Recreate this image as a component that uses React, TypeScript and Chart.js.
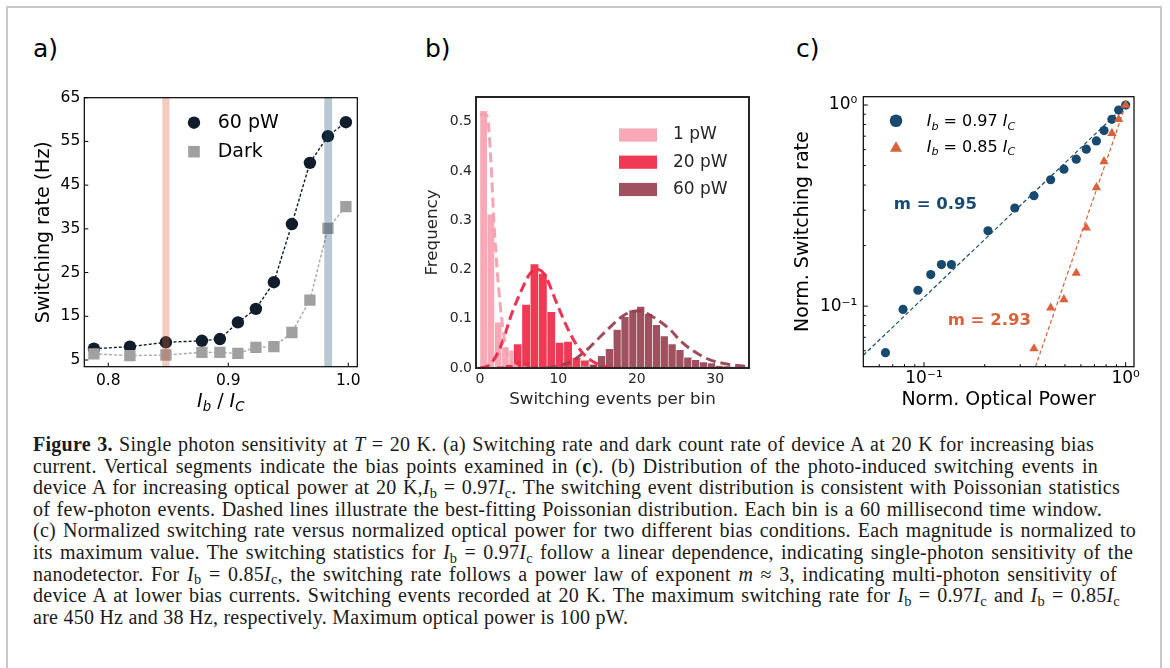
import React, { useEffect, useRef } from 'react';
import { Chart, registerables } from 'chart.js';

Chart.register(...registerables);

const FAMILY = 'DejaVu Sans';

/* ---------------- panel a: switching rate vs bias ---------------- */
const biasA = [0.788, 0.818, 0.848, 0.878, 0.893, 0.908, 0.923, 0.938, 0.953, 0.968, 0.983, 0.998];
const rate60pW = [7.6, 8.05, 9.05, 9.4, 9.8, 13.6, 16.7, 22.8, 36.1, 50.1, 56.2, 59.4];
const rateDark = [6.4, 6.0, 6.15, 6.75, 6.75, 6.5, 7.9, 8.05, 11.3, 18.7, 35.1, 40.1];
const bandLoA = [0.845, 0.98];
const bandHiA = [0.851, 0.9865];
const xTicksA = [0.8, 0.9, 1.0];
const yTicksA = [5, 15, 25, 35, 45, 55, 65];
const legendA = ['60 pW', 'Dark'];

/* ---------------- panel b: histograms ---------------- */
const binWidthsB = [0.93, 1.07, 1.0];
const binCenters1pW = [0.465, 1.395, 2.325, 3.255, 4.185, 5.115, 6.045, 6.975, 7.905];
const freq1pW = [0.522, 0.312, 0.093, 0.042, 0.036, 0.016, 0.012, 0.005, 0.003];
const binCenters20pW = [0.535, 1.605, 2.675, 3.745, 4.815, 5.885, 6.955, 8.025, 9.095, 10.165, 11.235, 12.305, 13.375, 14.445, 15.515, 16.585];
const freq20pW = [0.002, 0.002, 0.004, 0.0075, 0.049, 0.129, 0.211, 0.192, 0.114, 0.052, 0.054, 0.021, 0.016, 0.008, 0.004, 0.002];
const binCenters60pW = [12.5, 13.5, 14.5, 15.5, 16.5, 17.5, 18.5, 19.5, 20.5, 21.5, 22.5, 23.5, 24.5, 25.5, 26.5, 27.5, 28.5, 29.5, 30.5, 31.5, 32.5, 33.5, 34.5];
const freq60pW = [0.002, 0.004, 0.007, 0.025, 0.039, 0.078, 0.104, 0.118, 0.125, 0.11, 0.088, 0.065, 0.049, 0.037, 0.022, 0.017, 0.012, 0.01, 0.005, 0.004, 0.003, 0.003, 0.003];
const fitX1pW = [0, 0.6, 1.0, 1.4, 1.83, 2.55, 3.32, 3.75, 4.6, 6];
const fitY1pW = [0.514, 0.516, 0.505, 0.42, 0.283, 0.134, 0.039, 0.019, 0.003, 0];
const fitX20pW = [0, 1.0, 1.9, 2.8, 4.05, 5.3, 6.4, 7.2, 7.9, 8.5, 9.8, 11.1, 12.35, 13.6, 14.9, 16.2, 18];
const fitY20pW = [0, 0.004, 0.02, 0.05, 0.11, 0.158, 0.192, 0.2, 0.196, 0.182, 0.131, 0.083, 0.046, 0.022, 0.009, 0.002, 0];
const fitX60pW = [8.5, 10, 11.5, 12.8, 14.05, 15.3, 16.6, 17.9, 19.2, 20.4, 21.7, 23, 24.3, 25.5, 26.8, 28.1, 29.4, 31.1, 32.8, 34.3];
const fitY60pW = [0, 0.004, 0.012, 0.026, 0.043, 0.063, 0.083, 0.102, 0.114, 0.116, 0.107, 0.094, 0.077, 0.056, 0.039, 0.026, 0.016, 0.009, 0.005, 0.003];
const xTicksB = [0, 10, 20, 30];
const yTicksB = [0, 0.1, 0.2, 0.3, 0.4, 0.5];
const legendB = ['1 pW', '20 pW', '60 pW'];

/* ---------------- panel c: log-log ---------------- */
const powerHigh = [0.0644, 0.0787, 0.0933, 0.108, 0.122, 0.1367, 0.2076, 0.282, 0.351, 0.4247, 0.494, 0.569, 0.638, 0.716, 0.781, 0.855, 0.923, 1.0];
const rateHigh = [0.0587, 0.0963, 0.12, 0.1436, 0.161, 0.161, 0.237, 0.3076, 0.354, 0.425, 0.48, 0.538, 0.603, 0.663, 0.746, 0.849, 0.944, 1.0];
const powerLow = [0.351, 0.425, 0.494, 0.569, 0.638, 0.716, 0.781, 0.855, 0.923, 1.0];
const rateLow = [0.0615, 0.098, 0.108, 0.146, 0.245, 0.389, 0.524, 0.724, 0.849, 1.0];
const fitXHigh = [0.05, 1.0];
const fitYHigh = [0.057, 1.0];
const fitXLow = [0.357, 1.0];
const fitYLow = [0.05, 1.0];
const slopeLabelsC = ['m = 0.95', 'm = 2.93'];
const slopeLabelXC = [0.0708, 0.131];
const slopeLabelYC = [0.319, 0.085];
const biasLabelsC = ['0.97', '0.85'];
const logTicksC = [0.06, 0.07, 0.08, 0.09, 0.1, 0.2, 0.3, 0.4, 0.5, 0.6, 0.7, 0.8, 0.9, 1];
const majorTicksC = [0.1, 1];
const majorTickLabelsC = ['10\u207B\u00B9', '10\u2070'];

/* ---------------- colours ---------------- */
const C_DARKPT = '#111d2b';
const C_GRAY = '#a0a0a0';
const C_BLUE = '#174a6e';
const C_ORANGE = '#d9623b';
const BAND_COLORS = ['rgba(218,98,60,0.33)', 'rgba(22,72,107,0.30)'];
const HIST_COLORS = ['rgba(247,153,170,0.85)', 'rgba(237,23,55,0.85)', 'rgba(143,49,67,0.85)'];
const FIT_COLORS = ['rgba(246,160,176,0.95)', 'rgba(236,40,70,0.95)', 'rgba(150,62,78,0.92)'];

/* ---------------- helpers ---------------- */
type Seg = { t: string; it?: boolean; sub?: boolean; bold?: boolean };

function drawRich(ctx: any, segs: Seg[], x: number, y: number, size: number, color: string, align: 'left' | 'center') {
  const font = (s: Seg) => `${s.it ? 'italic ' : ''}${s.bold ? 'bold ' : ''}${s.sub ? size * 0.7 : size}px "${FAMILY}"`;
  let total = 0;
  const widths = segs.map((s) => {
    ctx.font = font(s);
    const w = ctx.measureText(s.t).width;
    total += w;
    return w;
  });
  let cx = align === 'center' ? x - total / 2 : x;
  ctx.fillStyle = color;
  ctx.textAlign = 'left';
  ctx.textBaseline = 'alphabetic';
  segs.forEach((s, i) => {
    ctx.font = font(s);
    ctx.fillText(s.t, cx, s.sub ? y + size * 0.22 : y);
    cx += widths[i];
  });
}

function drawFrame(chart: any, color: string, lw: number) {
  const { ctx, chartArea: ca } = chart;
  ctx.save();
  ctx.strokeStyle = color;
  ctx.lineWidth = lw;
  ctx.strokeRect(ca.left, ca.top, ca.right - ca.left, ca.bottom - ca.top);
  ctx.restore();
}

function drawInnerTicks(chart: any, id: string, side: 'left' | 'bottom', majorLen: number, minorLen: number, color: string, lw: number) {
  const { ctx, chartArea: ca } = chart;
  const sc = chart.scales[id];
  ctx.save();
  ctx.strokeStyle = color;
  ctx.lineWidth = lw;
  ctx.beginPath();
  for (const t of sc.ticks) {
    const p = sc.getPixelForValue(t.value);
    const len = t.major === false ? minorLen : majorLen;
    if (side === 'left') {
      if (p < ca.top - 0.5 || p > ca.bottom + 0.5) continue;
      ctx.moveTo(ca.left, p);
      ctx.lineTo(ca.left + len, p);
    } else {
      if (p < ca.left - 0.5 || p > ca.right + 0.5) continue;
      ctx.moveTo(p, ca.bottom);
      ctx.lineTo(p, ca.bottom - len);
    }
  }
  ctx.stroke();
  ctx.restore();
}

function fixedTicks(values: number[], majors?: number[]) {
  return (scale: any) => {
    scale.ticks = values.map((v) => ({ value: v, major: majors ? majors.includes(v) : true }));
  };
}

const noGrid = { display: false, drawTicks: false, tickLength: 0 };

const baseOptions = {
  responsive: false,
  animation: false,
  devicePixelRatio: 1,
  events: [],
};

/* ---------------- panel a config ---------------- */
function makeA(): any {
  const plugin = {
    id: 'panelA',
    afterDatasetsDraw(chart: any) {
      const { ctx, chartArea: ca } = chart;
      const xs = chart.scales.x;
      ctx.save();
      bandLoA.forEach((lo, i) => {
        const x0 = xs.getPixelForValue(lo);
        const x1 = xs.getPixelForValue(bandHiA[i]);
        ctx.fillStyle = BAND_COLORS[i];
        ctx.fillRect(x0, ca.top, x1 - x0, ca.bottom - ca.top);
      });
      ctx.restore();
    },
    afterDraw(chart: any) {
      const { ctx, chartArea: ca } = chart;
      drawInnerTicks(chart, 'x', 'bottom', 4, 2, '#000', 1);
      drawInnerTicks(chart, 'y', 'left', 4, 2, '#000', 1);
      drawFrame(chart, '#000', 1.2);
      ctx.save();
      const mx = ca.left + 109.7;
      const rows = [ca.top + 25, ca.top + 54];
      ctx.fillStyle = C_DARKPT;
      ctx.beginPath();
      ctx.arc(mx, rows[0], 6.2, 0, Math.PI * 2);
      ctx.fill();
      ctx.fillStyle = C_GRAY;
      ctx.fillRect(mx - 5.8, rows[1] - 5.8, 11.6, 11.6);
      ctx.fillStyle = '#000';
      ctx.font = `19px "${FAMILY}"`;
      ctx.textAlign = 'left';
      ctx.textBaseline = 'middle';
      legendA.forEach((t, i) => ctx.fillText(t, ca.left + 133.4, rows[i]));
      ctx.restore();
      ctx.save();
      drawRich(ctx, [
        { t: 'I', it: true }, { t: 'b', it: true, sub: true }, { t: ' / ' },
        { t: 'I', it: true }, { t: 'C', it: true, sub: true },
      ], (ca.left + ca.right) / 2, ca.bottom + 40, 19, '#000', 'center');
      ctx.restore();
    },
  };
  return {
    type: 'scatter',
    data: {
      datasets: [
        {
          label: legendA[0],
          data: biasA.map((x, i) => ({ x, y: rate60pW[i] })),
          showLine: true,
          borderColor: C_DARKPT,
          borderWidth: 1.4,
          borderDash: [3, 2],
          pointStyle: 'circle',
          pointRadius: 6.2,
          pointBackgroundColor: C_DARKPT,
          pointBorderWidth: 0,
          order: 2,
        },
        {
          label: legendA[1],
          data: biasA.map((x, i) => ({ x, y: rateDark[i] })),
          showLine: true,
          borderColor: '#a8a8a8',
          borderWidth: 1.4,
          borderDash: [3, 2],
          pointStyle: 'rect',
          pointRadius: 8,
          pointBackgroundColor: C_GRAY,
          pointBorderWidth: 0,
          order: 1,
        },
      ],
    },
    options: {
      ...baseOptions,
      layout: { padding: { left: 0, top: 37.7, right: 22.7, bottom: 0 } },
      plugins: { legend: { display: false }, tooltip: { enabled: false } },
      scales: {
        x: {
          type: 'linear', min: 0.78, max: 1.0075, bounds: 'data',
          afterBuildTicks: fixedTicks(xTicksA),
          afterFit: (s: any) => { s.height = 53.3; },
          grid: noGrid, border: { display: false },
          ticks: { autoSkip: false, maxRotation: 0, padding: 5, color: '#000', font: { family: FAMILY, size: 15.5 }, callback: (v: any) => Number(v).toFixed(1) },
        },
        y: {
          type: 'linear', min: 3.47, max: 65, bounds: 'data',
          afterBuildTicks: fixedTicks(yTicksA),
          afterFit: (s: any) => { s.width = 84.3; },
          grid: noGrid, border: { display: false },
          ticks: { autoSkip: false, padding: 4, color: '#000', font: { family: FAMILY, size: 15.5 }, callback: (v: any) => String(v) },
          title: { display: true, text: 'Switching rate (Hz)', color: '#000', font: { family: FAMILY, size: 19 }, padding: { top: 33, bottom: 0 } },
        },
      },
    },
    plugins: [plugin],
  };
}

/* ---------------- panel b config ---------------- */
function makeB(): any {
  const plugin = {
    id: 'panelB',
    afterDraw(chart: any) {
      const { ctx, chartArea: ca } = chart;
      drawFrame(chart, '#262626', 2);
      ctx.save();
      const rows = [ca.top + 38, ca.top + 65.2, ca.top + 92.5];
      legendB.forEach((t, i) => {
        ctx.fillStyle = HIST_COLORS[i];
        ctx.fillRect(ca.left + 143, rows[i] - 6.6, 38, 13.2);
        ctx.fillStyle = '#262626';
        ctx.font = `17px "${FAMILY}"`;
        ctx.textAlign = 'left';
        ctx.textBaseline = 'middle';
        ctx.fillText(t, ca.left + 197, rows[i]);
      });
      ctx.restore();
    },
  };
  const bar = (label: string, centers: number[], freq: number[], i: number, order: number) => ({
    type: 'bar',
    label,
    xAxisID: 'x',
    data: centers.map((x, k) => ({ x, y: freq[k] })),
    backgroundColor: HIST_COLORS[i],
    borderColor: 'rgba(255,255,255,0.95)',
    borderWidth: 0.6,
    borderSkipped: 'start',
    grouped: false,
    barPercentage: 1,
    categoryPercentage: 1,
    order,
  });
  const fit = (label: string, xs: number[], ys: number[], i: number) => ({
    type: 'line',
    label,
    xAxisID: 'x',
    data: xs.map((x, k) => ({ x, y: ys[k] })),
    borderColor: FIT_COLORS[i],
    borderWidth: 3,
    borderDash: [10, 5],
    pointRadius: 0,
    cubicInterpolationMode: 'monotone',
    fill: false,
    order: i,
  });
  return {
    type: 'bar',
    data: {
      datasets: [
        fit(legendB[0] + ' fit', fitX1pW, fitY1pW, 0),
        fit(legendB[1] + ' fit', fitX20pW, fitY20pW, 1),
        fit(legendB[2] + ' fit', fitX60pW, fitY60pW, 2),
        bar(legendB[0], binCenters1pW, freq1pW, 0, 7),
        bar(legendB[1], binCenters20pW, freq20pW, 1, 6),
        bar(legendB[2], binCenters60pW, freq60pW, 2, 5),
      ],
    },
    options: {
      ...baseOptions,
      layout: { padding: { left: 0, top: 37, right: 21, bottom: 0 } },
      plugins: { legend: { display: false }, tooltip: { enabled: false } },
      scales: {
        x: {
          type: 'linear', axis: 'x', min: -0.5, max: 34.3, bounds: 'data', offset: false,
          afterBuildTicks: fixedTicks(xTicksB),
          afterFit: (s: any) => { s.height = 52; },
          grid: { ...noGrid, offset: false }, border: { display: false },
          ticks: { autoSkip: false, maxRotation: 0, padding: 3, color: '#262626', font: { family: FAMILY, size: 14 }, callback: (v: any) => String(v) },
          title: { display: true, text: 'Switching events per bin', color: '#262626', font: { family: FAMILY, size: 16.7 }, padding: { top: 0, bottom: 10 } },
        },
        y: {
          type: 'linear', min: 0, max: 0.55, bounds: 'data',
          afterBuildTicks: fixedTicks(yTicksB),
          afterFit: (s: any) => { s.width = 86; },
          grid: noGrid, border: { display: false },
          ticks: { autoSkip: false, padding: 4, color: '#262626', font: { family: FAMILY, size: 14 }, callback: (v: any) => Number(v).toFixed(1) },
          title: { display: true, text: 'Frequency', color: '#262626', font: { family: FAMILY, size: 16.7 }, padding: { top: 32.7, bottom: 0 } },
        },
      },
    },
    plugins: [plugin],
  };
}

// bar widths follow the histogram bin widths through the x scale
function postB(chart: any) {
  const xs = chart.scales.x;
  const ppu = Math.abs(xs.getPixelForValue(1) - xs.getPixelForValue(0));
  binWidthsB.forEach((w, i) => {
    chart.data.datasets[3 + i].barThickness = w * ppu;
  });
  chart.update();
}

/* ---------------- panel c config ---------------- */
function makeC(): any {
  const plugin = {
    id: 'panelC',
    afterDatasetsDraw(chart: any) {
      const { ctx } = chart;
      const xs = chart.scales.x;
      const ys = chart.scales.y;
      ctx.save();
      ctx.font = `bold 16.5px "${FAMILY}"`;
      ctx.textAlign = 'left';
      ctx.textBaseline = 'middle';
      slopeLabelsC.forEach((t, i) => {
        ctx.fillStyle = i === 0 ? C_BLUE : C_ORANGE;
        ctx.fillText(t, xs.getPixelForValue(slopeLabelXC[i]), ys.getPixelForValue(slopeLabelYC[i]));
      });
      ctx.restore();
    },
    afterDraw(chart: any) {
      const { ctx, chartArea: ca } = chart;
      drawInnerTicks(chart, 'x', 'bottom', 4.5, 2.5, '#000', 1);
      drawInnerTicks(chart, 'y', 'left', 4.5, 2.5, '#000', 1);
      drawFrame(chart, '#000', 1.2);
      ctx.save();
      const mx = ca.left + 32.7;
      ctx.fillStyle = C_BLUE;
      ctx.beginPath();
      ctx.arc(mx, ca.top + 24, 6.3, 0, Math.PI * 2);
      ctx.fill();
      ctx.fillStyle = C_ORANGE;
      ctx.beginPath();
      ctx.moveTo(mx, ca.top + 50 - 5.5);
      ctx.lineTo(mx + 6, ca.top + 50 + 5);
      ctx.lineTo(mx - 6, ca.top + 50 + 5);
      ctx.closePath();
      ctx.fill();
      const baselines = [ca.top + 29.3, ca.top + 55];
      biasLabelsC.forEach((b, i) => {
        drawRich(ctx, [
          { t: 'I', it: true }, { t: 'b', it: true, sub: true }, { t: ' = ' + b + ' ' },
          { t: 'I', it: true }, { t: 'C', it: true, sub: true },
        ], ca.left + 63.4, baselines[i], 16, '#000', 'left');
      });
      ctx.restore();
    },
  };
  const logAxis = {
    type: 'logarithmic', min: 0.05, max: 1.1, bounds: 'data',
    afterBuildTicks: fixedTicks(logTicksC, majorTicksC),
    grid: noGrid, border: { display: false },
  };
  const label = (v: any) => {
    const k = majorTicksC.indexOf(Number(v));
    return k >= 0 ? majorTickLabelsC[k] : '';
  };
  return {
    type: 'scatter',
    data: {
      datasets: [
        {
          label: 'fit low',
          data: fitXLow.map((x, i) => ({ x, y: fitYLow[i] })),
          showLine: true, borderColor: C_ORANGE, borderWidth: 1.2, borderDash: [4, 2.5], pointRadius: 0, order: 1,
        },
        {
          label: 'fit high',
          data: fitXHigh.map((x, i) => ({ x, y: fitYHigh[i] })),
          showLine: true, borderColor: C_BLUE, borderWidth: 1.2, borderDash: [4, 2.5], pointRadius: 0, order: 3,
        },
        {
          label: 'Ib = 0.85 Ic',
          data: powerLow.map((x, i) => ({ x, y: rateLow[i] })),
          pointStyle: 'triangle', pointRadius: 5.4, pointBackgroundColor: C_ORANGE, pointBorderWidth: 0, order: 0,
        },
        {
          label: 'Ib = 0.97 Ic',
          data: powerHigh.map((x, i) => ({ x, y: rateHigh[i] })),
          pointStyle: 'circle', pointRadius: 4.6, pointBackgroundColor: C_BLUE, pointBorderWidth: 0, order: 2,
        },
      ],
    },
    options: {
      ...baseOptions,
      layout: { padding: { left: 0, top: 36.7, right: 36, bottom: 0 } },
      plugins: { legend: { display: false }, tooltip: { enabled: false } },
      scales: {
        x: {
          ...logAxis,
          afterFit: (s: any) => { s.height = 53.3; },
          ticks: { autoSkip: false, maxRotation: 0, padding: 2, color: '#000', font: { family: FAMILY, size: 17 }, callback: label },
          title: { display: true, text: 'Norm. Optical Power', color: '#000', font: { family: FAMILY, size: 19 }, padding: { top: 0, bottom: 8.5 } },
        },
        y: {
          ...logAxis,
          afterFit: (s: any) => { s.width = 93.3; },
          ticks: { autoSkip: false, padding: 6, color: '#000', font: { family: FAMILY, size: 17 }, callback: label },
          title: { display: true, text: 'Norm. Switching rate', color: '#000', font: { family: FAMILY, size: 19 }, padding: { top: 22, bottom: 0 } },
        },
      },
    },
    plugins: [plugin],
  };
}

/* ---------------- components ---------------- */
function ChartCanvas({ make, post, left, top, width, height }: { make: () => any; post?: (c: any) => void; left: number; top: number; width: number; height: number }) {
  const ref = useRef<HTMLCanvasElement | null>(null);
  useEffect(() => {
    if (!ref.current) return;
    const chart = new Chart(ref.current, make());
    if (post) post(chart);
    return () => chart.destroy();
  }, []);
  return (
    <canvas
      ref={ref}
      width={width}
      height={height}
      style={{ position: 'absolute', left, top, width, height }}
    />
  );
}

function PanelLabel({ text, left }: { text: string; left: number }) {
  return (
    <div style={{ position: 'absolute', left, top: 36, fontFamily: FAMILY, fontSize: 25, lineHeight: '25px', color: '#000', whiteSpace: 'nowrap' }}>
      {text}
    </div>
  );
}

const subStyle: React.CSSProperties = { fontSize: '0.72em', position: 'relative', top: '0.25em', verticalAlign: 'baseline', lineHeight: 0 };
const Ib = () => (<><i>I</i><sub style={subStyle}>b</sub></>);
const Ic = () => (<><i>I</i><sub style={subStyle}>c</sub></>);

// right ends of the caption lines in the reference (justified to them)
const CAPTION_LEFT = 33;
const captionLineEnds = [1094, 1098, 1120, 1102, 1136, 1133, 1117, 1120];

function Line({ i, children }: { i: number; children: React.ReactNode }) {
  const end = captionLineEnds[i];
  if (end === undefined) return <div style={{ whiteSpace: 'nowrap' }}>{children}</div>;
  return (
    <div style={{ width: end - CAPTION_LEFT, textAlign: 'justify', textAlignLast: 'justify' as any, whiteSpace: 'normal' }}>
      {children}
    </div>
  );
}

function Caption() {
  return (
    <div style={{ position: 'absolute', left: CAPTION_LEFT, top: 434, fontFamily: '"Liberation Serif", serif', fontSize: 20, letterSpacing: '0.25px', lineHeight: '21.6px', color: '#1a1a1a' }}>
      <Line i={0}><b>Figure 3.</b> Single photon sensitivity at <i>T</i> = 20 K. (a) Switching rate and dark count rate of device A at 20 K for increasing bias</Line>
      <Line i={1}>current. Vertical segments indicate the bias points examined in (<b>c</b>). (b) Distribution of the photo-induced switching events in</Line>
      <Line i={2}>device A for increasing optical power at 20 K,<Ib /> = 0.97<Ic />. The switching event distribution is consistent with Poissonian statistics</Line>
      <Line i={3}>of few-photon events. Dashed lines illustrate the best-fitting Poissonian distribution. Each bin is a 60 millisecond time window.</Line>
      <Line i={4}>(c) Normalized switching rate versus normalized optical power for two different bias conditions. Each magnitude is normalized to</Line>
      <Line i={5}>its maximum value. The switching statistics for <Ib /> = 0.97<Ic /> follow a linear dependence, indicating single-photon sensitivity of the</Line>
      <Line i={6}>nanodetector. For <Ib /> = 0.85<Ic />, the switching rate follows a power law of exponent <i>m</i> ≈ 3, indicating multi-photon sensitivity of</Line>
      <Line i={7}>device A at lower bias currents. Switching events recorded at 20 K. The maximum switching rate for <Ib /> = 0.97<Ic /> and <Ib /> = 0.85<Ic /></Line>
      <Line i={8}>are 450 Hz and 38 Hz, respectively. Maximum optical power is 100 pW.</Line>
    </div>
  );
}

export default function App() {
  return (
    <div style={{ position: 'absolute', left: 0, top: 0, width: 1170, height: 668, overflow: 'hidden', background: '#fff' }}>
      <div style={{ position: 'absolute', left: 6, top: 6, width: 1156, height: 720, border: '2px solid #c8c8c8', boxSizing: 'border-box' }} />
      <PanelLabel text="a)" left={33} />
      <PanelLabel text="b)" left={425} />
      <PanelLabel text="c)" left={796} />
      <ChartCanvas make={makeA} left={0} top={60} width={380} height={360} />
      <ChartCanvas make={makeB} post={postB} left={390} top={60} width={380} height={360} />
      <ChartCanvas make={makeC} left={770} top={60} width={400} height={360} />
      <Caption />
    </div>
  );
}
